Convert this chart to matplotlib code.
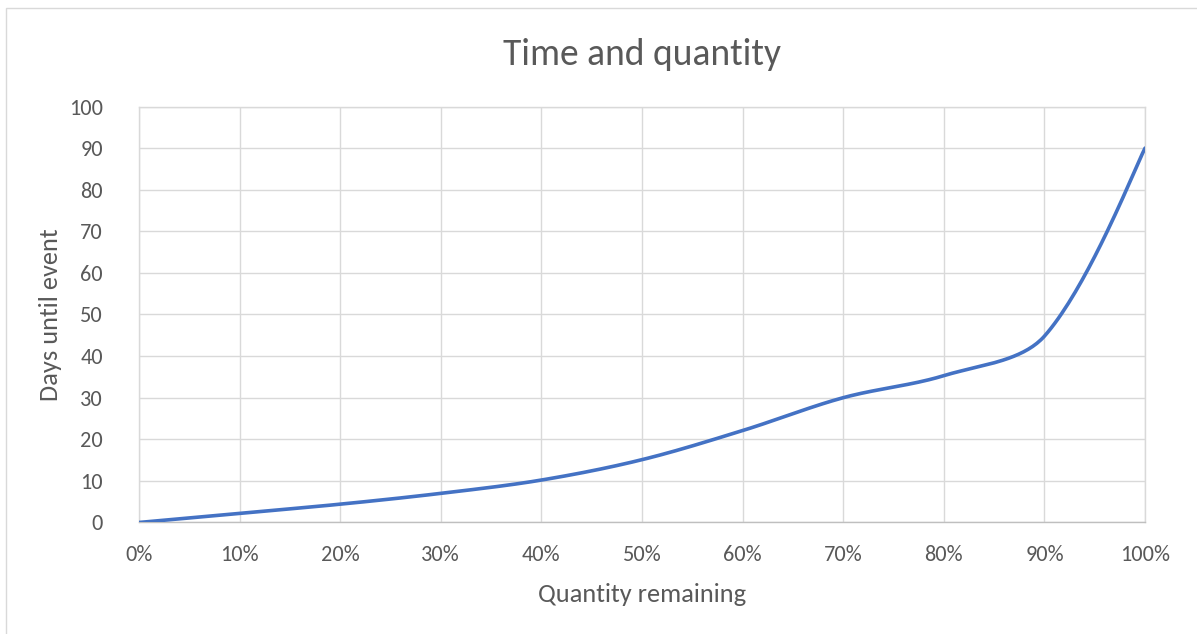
import numpy as np
import matplotlib.pyplot as plt
from matplotlib.ticker import PercentFormatter
from matplotlib.patches import Rectangle

# data
quantity = [0, 10, 20, 30, 40, 50, 60, 70, 80, 90, 100]
days = [0, 2.2, 4.4, 7.0, 10.2, 15.1, 22.1, 30.0, 35.3, 44.8, 90.0]

title = "Time and quantity"
xlabel = "Quantity remaining"
ylabel = "Days until event"

TEXT = "#595959"
GRID = "#d9d9d9"
LINE = "#4472c4"

plt.rcParams['font.family'] = ['Carlito', 'Lato', 'DejaVu Sans']


def smooth(x, y, sx=10.06, sy=4.155, n=40):
    """Bezier smoothing similar to Excel's smoothed line.
    sx, sy: pixel size of one data unit, so the tangents are scaled on screen."""
    p = np.column_stack([np.asarray(x, float) * sx, np.asarray(y, float) * sy])
    m = len(p)
    tang = np.zeros_like(p)
    for i in range(m):
        a = p[max(i - 1, 0)]
        b = p[min(i + 1, m - 1)]
        tang[i] = b - a
    seg = np.linalg.norm(np.diff(p, axis=0), axis=1)
    t = np.linspace(0, 1, n)[:, None]
    out = []
    for i in range(m - 1):
        dl_i = seg[i - 1] if i > 0 else seg[i]
        dr_i = seg[i]
        dl_j = seg[i]
        dr_j = seg[i + 1] if i + 1 < m - 1 else seg[i]
        k1 = dr_i / (dl_i + dr_i) / 3
        k2 = dl_j / (dl_j + dr_j) / 3
        if i == 0:
            k1 /= 2
        if i == m - 2:
            k2 /= 2
        c1 = p[i] + tang[i] * k1
        c2 = p[i + 1] - tang[i + 1] * k2
        pts = ((1 - t) ** 3 * p[i] + 3 * (1 - t) ** 2 * t * c1
               + 3 * (1 - t) * t ** 2 * c2 + t ** 3 * p[i + 1])
        out.append(pts)
    out = np.vstack(out)
    return out[:, 0] / sx, out[:, 1] / sy


fig = plt.figure(figsize=(11.97, 6.34), dpi=100)
ax = fig.add_axes([0.1161, 0.1759, 0.8405, 0.6561])

# chart border
fig.patches.append(Rectangle((6 / 1197, -0.01), 1.02, 1 - 8 / 634 + 0.01,
                             transform=fig.transFigure, fill=False,
                             edgecolor=GRID, linewidth=1))

cx, cy = smooth(quantity, days)
ax.plot(cx, cy, color=LINE, linewidth=2.6, solid_capstyle='round', zorder=3)

ax.set_xlim(0, 100)
ax.set_ylim(0, 100)
ax.set_xticks(quantity)
ax.set_yticks(range(0, 101, 10))
ax.xaxis.set_major_formatter(PercentFormatter(decimals=0))
ax.grid(True, color=GRID, linewidth=1)
ax.set_axisbelow(True)
for s in ax.spines.values():
    s.set_color(GRID)
    s.set_linewidth(1)
ax.spines['bottom'].set_color("#bfbfbf")
ax.tick_params(length=0, labelsize=16, labelcolor=TEXT)
ax.tick_params(axis='y', pad=26)
ax.tick_params(axis='x', pad=16)

ax.set_title(title, fontsize=27, color=TEXT, pad=30)
ax.set_xlabel(xlabel, fontsize=19, color=TEXT, labelpad=13)
ax.set_ylabel(ylabel, fontsize=19, color=TEXT, labelpad=5)

fig.savefig("out.png", dpi=100)
